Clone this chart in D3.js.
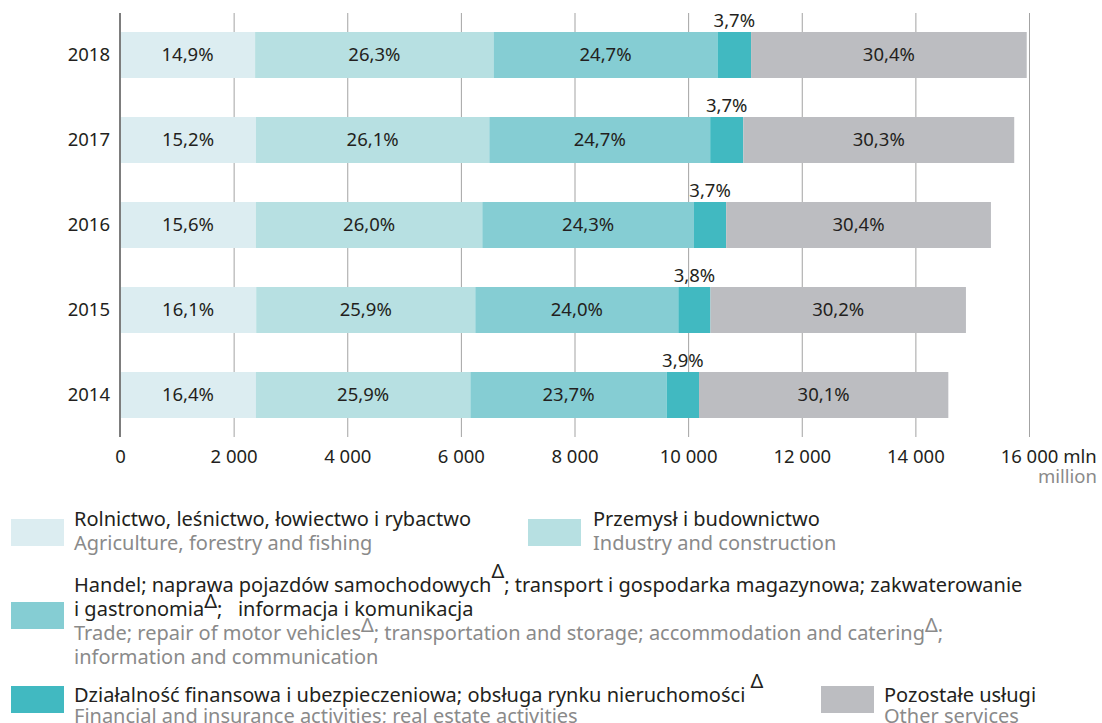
<!DOCTYPE html>
<html>
<head>
<meta charset="utf-8">
<script src="https://cdn.jsdelivr.net/npm/d3@7"></script>
<style>
  body { margin: 0; background: #fff; }
  svg text { font-family: "Noto Sans", sans-serif; }
</style>
</head>
<body>
<div class="chart"></div>
<script>
// values
var years = ["2018", "2017", "2016", "2015", "2014"];
var totals = [15960, 15740, 15330, 14890, 14580]; // mln
var agriculture = [14.9, 15.2, 15.6, 16.1, 16.4];
var industry = [26.3, 26.1, 26.0, 25.9, 25.9];
var trade = [24.7, 24.7, 24.3, 24.0, 23.7];
var finance = [3.7, 3.7, 3.7, 3.8, 3.9];
var other = [30.4, 30.3, 30.4, 30.2, 30.1];
var xTicks = [0, 2000, 4000, 6000, 8000, 10000, 12000, 14000, 16000];

var colors = ["#dcedf1", "#b7e0e2", "#85cdd3", "#41b9c1", "#bcbdc1"];

var legendPl = [
  ["Rolnictwo, leśnictwo, łowiectwo i rybactwo"],
  ["Przemysł i budownictwo"],
  ["Handel; naprawa pojazdów samochodowychΔ; transport i gospodarka magazynowa; zakwaterowanie",
   "i gastronomiaΔ;   informacja i komunikacja"],
  ["Działalność finansowa i ubezpieczeniowa; obsługa rynku nieruchomości Δ"],
  ["Pozostałe usługi"]
];
var legendEn = [
  ["Agriculture, forestry and fishing"],
  ["Industry and construction"],
  ["Trade; repair of motor vehiclesΔ; transportation and storage; accommodation and cateringΔ;",
   "information and communication"],
  ["Financial and insurance activities; real estate activities"],
  ["Other services"]
];

var keys = ["agriculture", "industry", "trade", "finance", "other"];
var series = [agriculture, industry, trade, finance, other];

var rows = years.map(function(y, i) {
  var r = { year: y };
  keys.forEach(function(k, j) {
    r[k] = series[j][i] * totals[i] / 100;
    r[k + "Pct"] = series[j][i];
  });
  return r;
});

var width = 1102, height = 723;
var svg = d3.select(".chart").append("svg")
  .attr("width", width)
  .attr("height", height);

var x = d3.scaleLinear().domain([0, 16000]).range([120, 1029]);
var y = d3.scaleBand().domain(years).range([32, 418])
  .paddingInner(0.459).paddingOuter(0);

var fmt = d3.formatLocale({ decimal: ",", thousands: " ", grouping: [3], currency: ["", ""] }).format(",d");

// grid + axis
var axisG = svg.append("g")
  .attr("transform", "translate(0,437)")
  .call(d3.axisBottom(x).tickValues(xTicks).tickSize(-424).tickPadding(13).tickFormat(fmt));
axisG.select(".domain").remove();
axisG.selectAll(".tick line").attr("stroke", "#a3a3a3").attr("stroke-width", 1);
axisG.selectAll(".tick text")
  .attr("fill", "#231f20")
  .style("font-size", "18.5px");

// "16 000 mln": keep the number centred on its tick
var lastText = axisG.selectAll(".tick text").filter(function(d) { return d === 16000; });
var half = lastText.node().getComputedTextLength() / 2;
lastText.attr("text-anchor", "start").attr("x", -half).append("tspan").text(" mln");

svg.append("text")
  .attr("x", 1097).attr("y", 483)
  .attr("text-anchor", "end")
  .attr("fill", "#8a8a8a")
  .style("font-size", "18.5px")
  .text("million");

// bars
var stack = d3.stack().keys(keys)(rows);

var layer = svg.selectAll(".layer")
  .data(stack)
  .enter().append("g")
  .attr("class", "layer")
  .attr("fill", function(d, i) { return colors[i]; });

layer.selectAll("rect")
  .data(function(d) { return d; })
  .enter().append("rect")
  .attr("x", function(d) { return x(d[0]); })
  .attr("y", function(d) { return y(d.data.year); })
  .attr("width", function(d) { return x(d[1]) - x(d[0]); })
  .attr("height", y.bandwidth());

// percent labels
stack.forEach(function(s, i) {
  svg.append("g").selectAll("text")
    .data(s)
    .enter().append("text")
    .attr("x", function(d) { return (x(d[0]) + x(d[1])) / 2; })
    .attr("y", function(d) {
      return i === 3 ? y(d.data.year) - 5 : y(d.data.year) + y.bandwidth() / 2 + 6;
    })
    .attr("text-anchor", "middle")
    .attr("fill", "#231f20")
    .style("font-size", "18.5px")
    .text(function(d) { return String(d.data[keys[i] + "Pct"].toFixed(1)).replace(".", ",") + "%"; });
});

// zero line
svg.append("line")
  .attr("x1", x(0)).attr("x2", x(0))
  .attr("y1", 13).attr("y2", 437)
  .attr("stroke", "#7d7d7d").attr("stroke-width", 2);

// year labels
svg.append("g").selectAll("text")
  .data(years)
  .enter().append("text")
  .attr("x", 110)
  .attr("y", function(d) { return y(d) + y.bandwidth() / 2 + 6; })
  .attr("text-anchor", "end")
  .attr("fill", "#231f20")
  .style("font-size", "18.5px")
  .text(function(d) { return d; });

// legend
var legendPos = [
  { sx: 11, sy: 519, tx: 74, pl: [526], en: [550], plRise: [0], enRise: [0] },
  { sx: 528, sy: 519, tx: 593, pl: [526], en: [550], plRise: [0], enRise: [0] },
  { sx: 11, sy: 602, tx: 74, pl: [592, 616], en: [640, 664], plRise: [14, 8], enRise: [8, 8] },
  { sx: 11, sy: 686, tx: 74, pl: [702], en: [723], plRise: [14], enRise: [0] },
  { sx: 821, sy: 686, tx: 884, pl: [702], en: [723], plRise: [0], enRise: [0] }
];

function writeLine(g, str, tx, ty, rise, fill) {
  var t = g.append("text")
    .attr("x", tx).attr("y", ty)
    .attr("fill", fill)
    .style("font-size", "20px")
    .style("white-space", "pre");
  var parts = str.split("Δ");
  parts.forEach(function(p, i) {
    if (i > 0) {
      t.append("tspan").attr("dy", -rise).text("Δ");
      t.append("tspan").attr("dy", rise).text(p);
    } else {
      t.append("tspan").text(p);
    }
  });
}

var legend = svg.append("g").attr("class", "legend");
legendPos.forEach(function(p, i) {
  legend.append("rect")
    .attr("x", p.sx).attr("y", p.sy)
    .attr("width", 53).attr("height", 27)
    .attr("fill", colors[i]);
  legendPl[i].forEach(function(line, j) {
    writeLine(legend, line, p.tx, p.pl[j], p.plRise[j], "#231f20");
  });
  legendEn[i].forEach(function(line, j) {
    writeLine(legend, line, p.tx, p.en[j], p.enRise[j], "#8a8a8a");
  });
});
</script>
</body>
</html>
